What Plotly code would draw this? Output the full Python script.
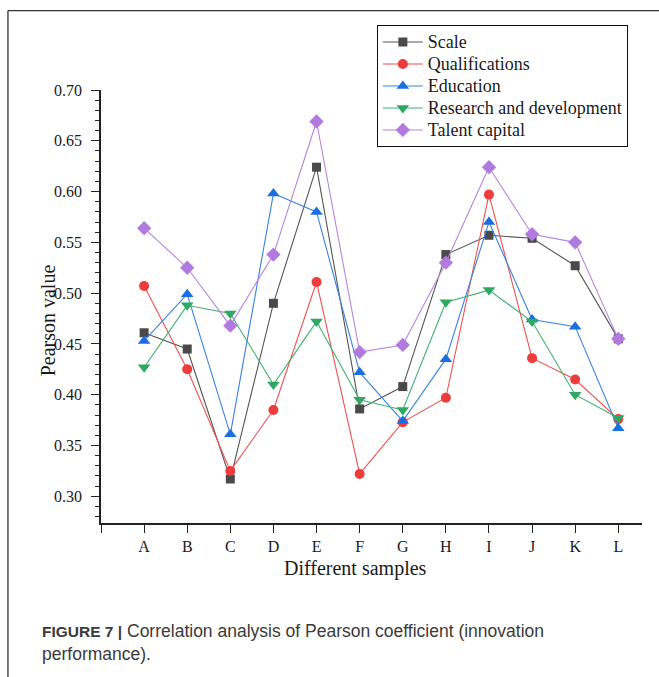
import plotly.graph_objects as go

categories = ["A", "B", "C", "D", "E", "F", "G", "H", "I", "J", "K", "L"]
scale = [0.461, 0.445, 0.317, 0.490, 0.624, 0.386, 0.408, 0.538, 0.557, 0.554, 0.527, 0.455]
qualifications = [0.507, 0.425, 0.325, 0.385, 0.511, 0.322, 0.373, 0.397, 0.597, 0.436, 0.415, 0.376]
education = [0.453, 0.499, 0.361, 0.598, 0.580, 0.422, 0.374, 0.435, 0.570, 0.474, 0.467, 0.367]
research = [0.427, 0.488, 0.480, 0.410, 0.472, 0.395, 0.385, 0.491, 0.503, 0.472, 0.400, 0.377]
talent = [0.564, 0.525, 0.468, 0.538, 0.669, 0.442, 0.449, 0.530, 0.624, 0.558, 0.550, 0.455]

series = [
    ("Scale", scale, "#4a4a4a", "#555555", "square", 9),
    ("Qualifications", qualifications, "#ee3b3b", "#f05050", "circle", 10),
    ("Education", education, "#1a6fe0", "#3a82e6", "triangle-up", 11),
    ("Research and development", research, "#2fa864", "#3fb070", "triangle-down", 11),
    ("Talent capital", talent, "#b07ade", "#b585e0", "diamond", 11),
]

xpos = list(range(1, len(categories) + 1))

fig = go.Figure()
for name, vals, mcol, lcol, sym, sz in series:
    fig.add_trace(go.Scatter(
        x=xpos, y=vals, name='<span style="font-size:18px">' + name + '</span>',
        mode="lines+markers",
        line=dict(color=lcol, width=1.1),
        marker=dict(symbol=sym, size=sz, color=mcol, line=dict(width=0)),
    ))

W, H = 659, 677
ml, mr, mt, mb = 101, 17.3, 89.5, 154.3
pw = W - ml - mr
ph = H - mt - mb

def px_x(px):
    return (px - ml) / pw

def px_y(py):
    return (H - mb - py) / ph

serif = "Liberation Serif"
axcol = "#222222"

fig.update_layout(
    width=W, height=H,
    margin=dict(l=ml, r=mr, t=mt, b=mb, pad=0),
    paper_bgcolor="white", plot_bgcolor="white",
    font=dict(family=serif, color="#1a1a1a", size=16),
    showlegend=True,
    legend=dict(
        x=px_x(376.7), y=px_y(24.5), xanchor="left", yanchor="top",
        bordercolor="#111111", borderwidth=1, bgcolor="white",
        font=dict(family=serif, size=14.6, color="#1a1a1a"),
        itemwidth=40, tracegroupgap=0,
    ),
    xaxis=dict(
        range=[0, 12.55], tickmode="array",
        tickvals=[0] + xpos, ticktext=[""] + categories,
        showline=True, linecolor=axcol, linewidth=1.5,
        ticks="outside", ticklen=8, tickwidth=1.3, tickcolor=axcol,
        showgrid=False, zeroline=False,
        tickfont=dict(family=serif, size=16, color="#1a1a1a"),
    ),
    yaxis=dict(
        range=[0.2737, 0.70], tickmode="linear", tick0=0.30, dtick=0.05,
        tickformat=".2f",
        showline=True, linecolor=axcol, linewidth=1.5,
        ticks="outside", ticklen=8, tickwidth=1.3, tickcolor=axcol,
        minor=dict(ticks="outside", ticklen=4, tickwidth=1.2, tickcolor=axcol, dtick=0.01, tick0=0.30),
        showgrid=False, zeroline=False,
        ticklabelstandoff=6,
        tickfont=dict(family=serif, size=16, color="#1a1a1a"),
    ),
)

fig.add_annotation(
    text="Different samples", xref="paper", yref="paper",
    x=px_x(355), y=px_y(568), xanchor="center", yanchor="middle",
    showarrow=False, font=dict(family=serif, size=20, color="#1a1a1a"),
)
fig.add_annotation(
    text="Pearson value", xref="paper", yref="paper",
    x=px_x(48), y=px_y(320), xanchor="center", yanchor="middle",
    textangle=-90, showarrow=False, font=dict(family=serif, size=20, color="#1a1a1a"),
)

sans = "Liberation Sans"
fig.add_annotation(
    text='<b><span style="font-size:15.5px">FIGURE 7 |</span></b> Correlation analysis of Pearson coefficient (innovation',
    xref="paper", yref="paper", x=px_x(40), y=px_y(631),
    xanchor="left", yanchor="middle", showarrow=False,
    font=dict(family=sans, size=17.5, color="#3a3a3a"),
)
fig.add_annotation(
    text="performance).",
    xref="paper", yref="paper", x=px_x(40), y=px_y(654),
    xanchor="left", yanchor="middle", showarrow=False,
    font=dict(family=sans, size=17.5, color="#3a3a3a"),
)

# outer figure frame (left and top edges)
fig.add_shape(type="line", xref="paper", yref="paper",
              x0=px_x(8), x1=px_x(8), y0=px_y(10), y1=px_y(700),
              line=dict(color="#333333", width=1.3))
fig.add_shape(type="line", xref="paper", yref="paper",
              x0=px_x(8), x1=px_x(700), y0=px_y(10), y1=px_y(10),
              line=dict(color="#333333", width=1.3))

fig.write_html("out.html")
